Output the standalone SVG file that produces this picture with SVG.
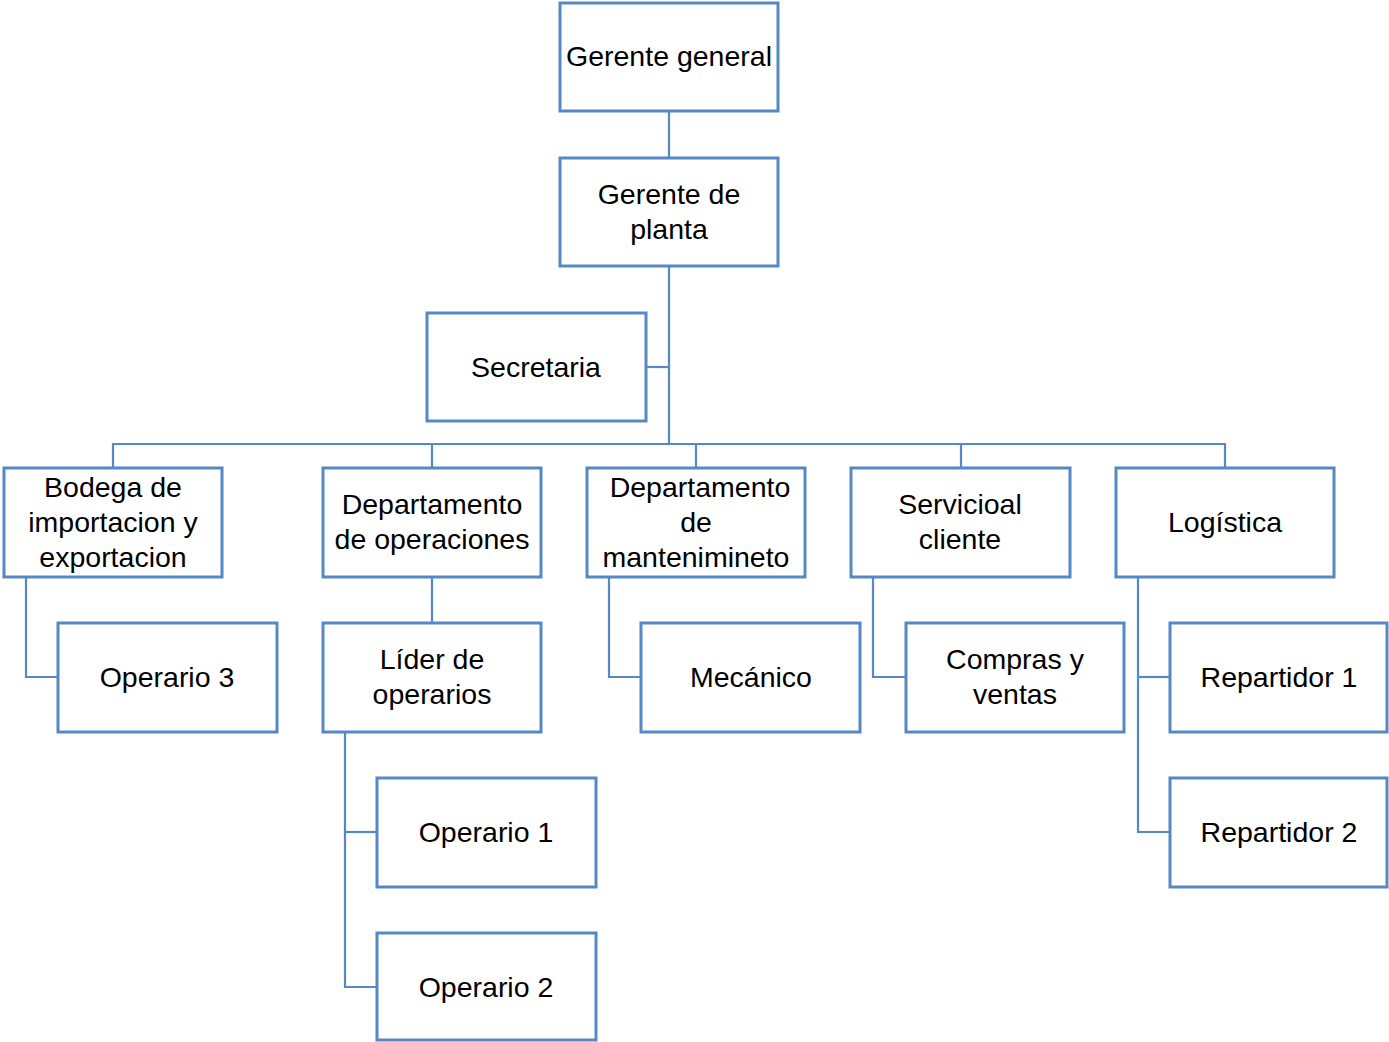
<svg xmlns="http://www.w3.org/2000/svg" width="1389" height="1042" viewBox="0 0 1389 1042">
  <style>
    .box { fill: #ffffff; stroke: #5588C4; stroke-width: 3; }
    .link { fill: none; stroke: #5588C4; stroke-width: 2.2; }
    text { font-family: "Liberation Sans", Arial, sans-serif; font-size: 28.5px; fill: #000000; text-anchor: middle; }
  </style>
  <rect width="1389" height="1042" fill="#ffffff"/>

  <!-- connectors -->
  <g id="connectors">
    <path class="link" d="M669 111 V158"/>
    <path class="link" d="M669 266 V444"/>
    <path class="link" d="M646 367 H669"/>
    <path class="link" d="M113 468 V444 H1225 V468"/>
    <path class="link" d="M432 444 V468"/>
    <path class="link" d="M696 444 V468"/>
    <path class="link" d="M961 444 V468"/>
    <path class="link" d="M26 577 V677 H58"/>
    <path class="link" d="M432 577 V623"/>
    <path class="link" d="M609 577 V677 H641"/>
    <path class="link" d="M873 577 V677 H906"/>
    <path class="link" d="M1138 577 V832 H1170"/>
    <path class="link" d="M1138 677 H1170"/>
    <path class="link" d="M345 732 V987 H377"/>
    <path class="link" d="M345 832 H377"/>
  </g>

  <g id="gerente-general">
    <rect class="box" x="560" y="3" width="218" height="108"/>
    <text x="669" y="66">Gerente general</text>
  </g>
  <g id="gerente-planta">
    <rect class="box" x="560" y="158" width="218" height="108"/>
    <text x="669" y="204">Gerente de</text>
    <text x="669" y="239">planta</text>
  </g>
  <g id="secretaria">
    <rect class="box" x="427" y="313" width="219" height="108"/>
    <text x="536" y="377">Secretaria</text>
  </g>
  <g id="bodega">
    <rect class="box" x="4" y="468" width="218" height="109"/>
    <text x="113" y="497">Bodega de</text>
    <text x="113" y="532">importacion y</text>
    <text x="113" y="567">exportacion</text>
  </g>
  <g id="operaciones">
    <rect class="box" x="323" y="468" width="218" height="109"/>
    <text x="432" y="514">Departamento</text>
    <text x="432" y="549">de operaciones</text>
  </g>
  <g id="mantenimiento">
    <rect class="box" x="587" y="468" width="218" height="109"/>
    <text x="700" y="497">Departamento</text>
    <text x="696" y="532">de</text>
    <text x="696" y="567">mantenimineto</text>
  </g>
  <g id="servicio">
    <rect class="box" x="851" y="468" width="219" height="109"/>
    <text x="960" y="514">Servicioal</text>
    <text x="960" y="549">cliente</text>
  </g>
  <g id="logistica">
    <rect class="box" x="1116" y="468" width="218" height="109"/>
    <text x="1225" y="532">Logística</text>
  </g>
  <g id="operario-3">
    <rect class="box" x="58" y="623" width="219" height="109"/>
    <text x="167" y="687">Operario 3</text>
  </g>
  <g id="lider">
    <rect class="box" x="323" y="623" width="218" height="109"/>
    <text x="432" y="669">Líder de</text>
    <text x="432" y="704">operarios</text>
  </g>
  <g id="mecanico">
    <rect class="box" x="641" y="623" width="219" height="109"/>
    <text x="751" y="687">Mecánico</text>
  </g>
  <g id="compras">
    <rect class="box" x="906" y="623" width="218" height="109"/>
    <text x="1015" y="669">Compras y</text>
    <text x="1015" y="704">ventas</text>
  </g>
  <g id="repartidor-1">
    <rect class="box" x="1170" y="623" width="217" height="109"/>
    <text x="1279" y="687">Repartidor 1</text>
  </g>
  <g id="operario-1">
    <rect class="box" x="377" y="778" width="219" height="109"/>
    <text x="486" y="842">Operario 1</text>
  </g>
  <g id="operario-2">
    <rect class="box" x="377" y="933" width="219" height="107"/>
    <text x="486" y="997">Operario 2</text>
  </g>
  <g id="repartidor-2">
    <rect class="box" x="1170" y="778" width="217" height="109"/>
    <text x="1279" y="842">Repartidor 2</text>
  </g>
</svg>
